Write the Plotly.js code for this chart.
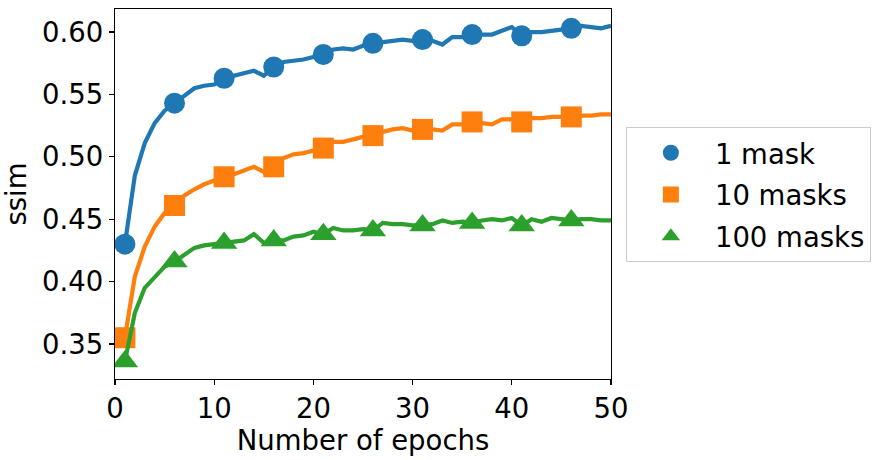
<!DOCTYPE html>
<html>
<head>
<meta charset="utf-8">
<script src="https://cdn.plot.ly/plotly-3.0.1.min.js"></script>
<style>
  html, body { margin: 0; padding: 0; background: #fff; }
  #chart { width: 886px; height: 460px; }
</style>
</head>
<body>
<div id="chart"></div>
<script>
// epochs 1..50
const epochs = Array.from({ length: 50 }, (_, i) => i + 1);

// ssim per epoch
const ssim1Mask = [
    0.430, 0.485, 0.511, 0.527, 0.537, 0.543, 0.550, 0.555, 0.557, 0.558,
    0.563, 0.565, 0.567, 0.569, 0.565, 0.572, 0.576, 0.577, 0.578, 0.580,
    0.582, 0.586, 0.587, 0.586, 0.589, 0.591, 0.592, 0.593, 0.594, 0.593,
    0.594, 0.593, 0.590, 0.596, 0.596, 0.598, 0.598, 0.598, 0.601, 0.604,
    0.597, 0.600, 0.600, 0.601, 0.602, 0.603, 0.605, 0.604, 0.603, 0.605
];
const ssim10Masks = [
    0.355, 0.404, 0.428, 0.444, 0.455, 0.461, 0.469, 0.474, 0.478, 0.481,
    0.484, 0.486, 0.489, 0.492, 0.488, 0.492, 0.499, 0.502, 0.503, 0.505,
    0.507, 0.512, 0.512, 0.514, 0.516, 0.517, 0.520, 0.522, 0.523, 0.521,
    0.522, 0.522, 0.521, 0.526, 0.526, 0.528, 0.527, 0.526, 0.530, 0.530,
    0.528, 0.531, 0.531, 0.532, 0.532, 0.532, 0.533, 0.533, 0.534, 0.534
];
const ssim100Masks = [
    0.336, 0.375, 0.395, 0.403, 0.412, 0.416, 0.422, 0.427, 0.429, 0.430,
    0.431, 0.432, 0.433, 0.438, 0.431, 0.433, 0.433, 0.436, 0.437, 0.440,
    0.438, 0.443, 0.441, 0.441, 0.442, 0.441, 0.447, 0.446, 0.446, 0.445,
    0.445, 0.446, 0.449, 0.447, 0.448, 0.447, 0.449, 0.450, 0.449, 0.451,
    0.445, 0.450, 0.448, 0.451, 0.450, 0.449, 0.450, 0.450, 0.449, 0.449
];

const seriesNames = ['1 mask', '10 masks', '100 masks'];
const seriesColors = ['#1f77b4', '#ff7f0e', '#2ca02c'];
const seriesSymbols = ['circle', 'square', 'triangle-up'];
const seriesMarkerSizes = [21, 21, 23];
const markEvery = 5;

const FONT = 'DejaVu Sans, sans-serif';
const FS = 27.5;

const traces = [];
[ssim1Mask, ssim10Masks, ssim100Masks].forEach((vals, k) => {
    // full curve
    traces.push({
        type: 'scatter',
        mode: 'lines',
        x: epochs,
        y: vals,
        line: { color: seriesColors[k], width: 4.2 },
        showlegend: false,
        hoverinfo: 'skip'
    });
    // markers every 5 epochs (1, 6, 11, ...)
    const idx = epochs.map((e, i) => i).filter(i => i % markEvery === 0);
    traces.push({
        type: 'scatter',
        mode: 'markers',
        x: idx.map(i => epochs[i]),
        y: idx.map(i => vals[i]),
        name: seriesNames[k],
        legendgroup: 'g' + k,
        marker: {
            color: seriesColors[k],
            symbol: seriesSymbols[k],
            size: seriesMarkerSizes[k],
            line: { width: 0 }
        }
    });
});

const axisCommon = {
    showline: true,
    linecolor: '#000',
    linewidth: 1.3,
    mirror: true,
    showgrid: false,
    zeroline: false,
    ticks: 'outside',
    ticklen: 5,
    tickwidth: 1.3,
    tickcolor: '#000',
    tickfont: { family: FONT, size: FS, color: '#000' }
};

const layout = {
    width: 886,
    height: 460,
    margin: { l: 115, r: 275, t: 9, b: 81 },
    paper_bgcolor: '#fff',
    plot_bgcolor: '#fff',
    font: { family: FONT, color: '#000' },
    xaxis: Object.assign({}, axisCommon, {
        range: [0, 50],
        tickvals: [0, 10, 20, 30, 40, 50],
        title: { text: 'Number of epochs', font: { family: FONT, size: FS, color: '#000' }, standoff: 4 }
    }),
    yaxis: Object.assign({}, axisCommon, {
        range: [0.3219, 0.6185],
        tickvals: [0.35, 0.40, 0.45, 0.50, 0.55, 0.60],
        tickformat: '.2f',
        title: { text: 'ssim', font: { family: FONT, size: FS, color: '#000' }, standoff: 10 }
    }),
    showlegend: true,
    legend: {
        x: 1.03,
        xanchor: 'left',
        y: 0.68,
        yanchor: 'top',
        bordercolor: '#cccccc',
        borderwidth: 1,
        bgcolor: '#fff',
        font: { family: FONT, size: FS, color: '#000' },
        itemwidth: 78,
        traceorder: 'grouped',
        tracegroupgap: 3
    }
};

Plotly.newPlot('chart', traces, layout, { displayModeBar: false, staticPlot: true });
</script>
</body>
</html>
